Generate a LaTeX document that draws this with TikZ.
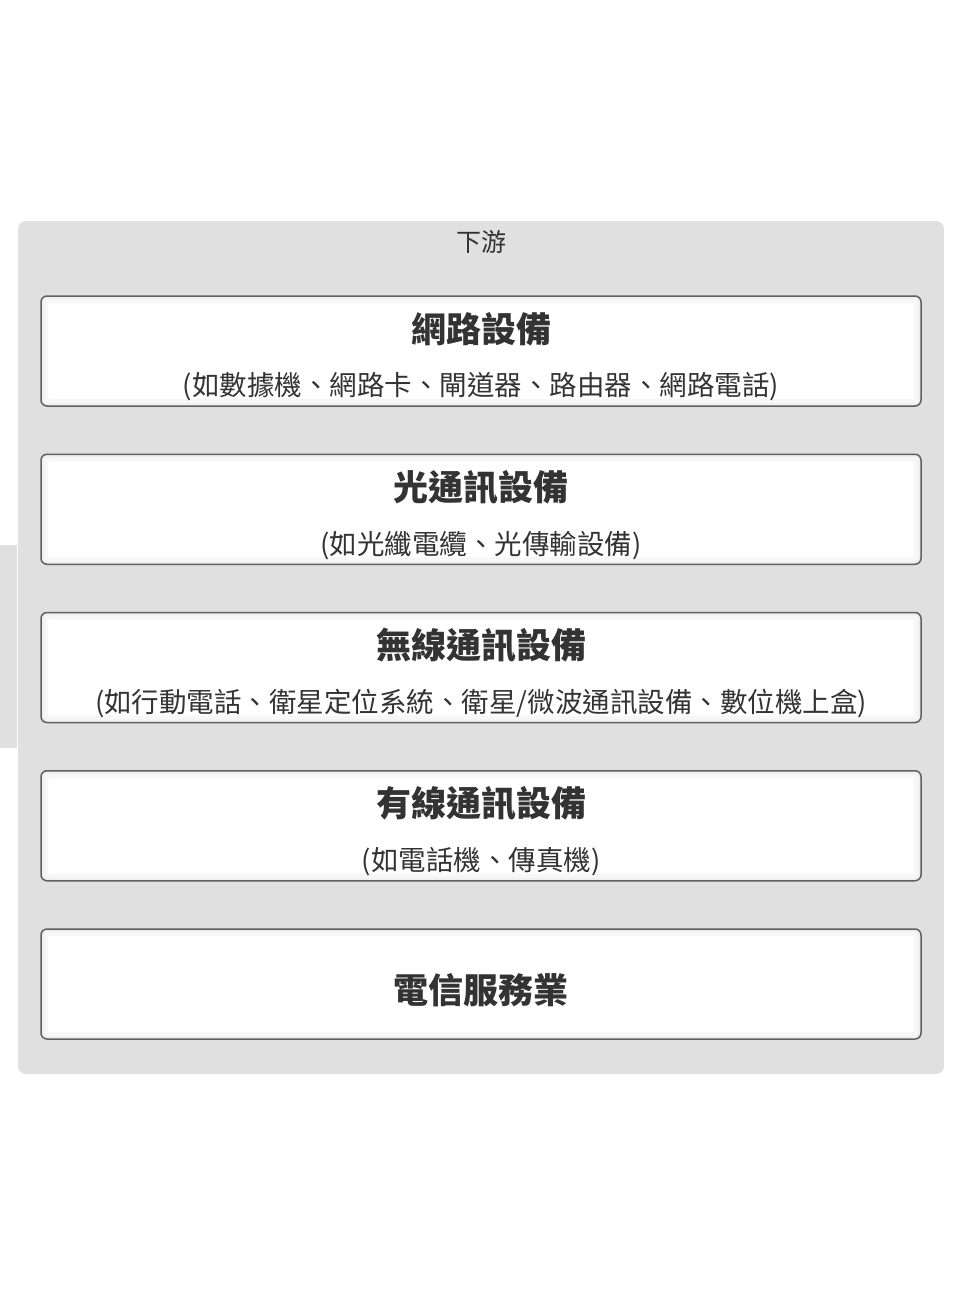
\documentclass[tikz,border=0pt]{standalone}
\usepackage{fontspec}
\setmainfont{Noto Sans CJK TC}
\usetikzlibrary{positioning}
\definecolor{panelgray}{HTML}{E0E0E0}
\definecolor{framegray}{HTML}{606060}
\definecolor{textgray}{HTML}{333333}
\begin{document}
\begin{tikzpicture}[x=1pt,y=-1pt,
    node distance=46.75pt,
    itembox/.style={draw=framegray,fill=white,line width=1.5pt,rounded corners=6pt,
        minimum width=880pt,minimum height=110pt,inner sep=0pt,
        path picture={
            \draw[black!3,line width=14pt,rounded corners=6pt] (path picture bounding box.south west) rectangle (path picture bounding box.north east);
            \draw[black!6,line width=6pt,rounded corners=6pt] (path picture bounding box.south west) rectangle (path picture bounding box.north east);
        }},
    itemtitle/.style={text=textgray,font=\fontsize{35}{40}\selectfont\bfseries,inner sep=0pt},
    itemnote/.style={text=textgray,font=\fontsize{27.5}{32}\selectfont,inner sep=0pt}]
        \useasboundingbox (0,0) rectangle (974,1298);
        % background panel
        \fill[panelgray] (0,545) rectangle (17,748);
        \fill[panelgray,rounded corners=8pt] (18,221) rectangle (944,1074);
        \node[text=textgray,font=\fontsize{25}{30}\selectfont,inner sep=0pt] (down) at (481,242) {下游};
        % boxes
        \node[itembox] (net) at (481,351) {};
        \node[itembox,below=of net] (optic) {};
        \node[itembox,below=of optic] (wireless) {};
        \node[itembox,below=of wireless] (wired) {};
        \node[itembox,below=of wired] (telecom) {};
        % texts
        \node[itemtitle] (netT) at ([yshift=22pt]net.center) {網路設備};
        \node[itemnote] (netN) at ([yshift=-36pt]net.center) {(如數據機、網路卡、閘道器、路由器、網路電話)};
        \node[itemtitle] (opticT) at ([yshift=22pt]optic.center) {光通訊設備};
        \node[itemnote] (opticN) at ([yshift=-36pt]optic.center) {(如光纖電纜、光傳輸設備)};
        \node[itemtitle] (wirelessT) at ([yshift=22pt]wireless.center) {無線通訊設備};
        \node[itemnote] (wirelessN) at ([yshift=-36pt]wireless.center) {(如行動電話、衛星定位系統、衛星/微波通訊設備、數位機上盒)};
        \node[itemtitle] (wiredT) at ([yshift=22pt]wired.center) {有線通訊設備};
        \node[itemnote] (wiredN) at ([yshift=-36pt]wired.center) {(如電話機、傳真機)};
        \node[itemtitle] (telecomT) at ([yshift=-6pt]telecom.center) {電信服務業};
    \end{tikzpicture}
\end{document}
